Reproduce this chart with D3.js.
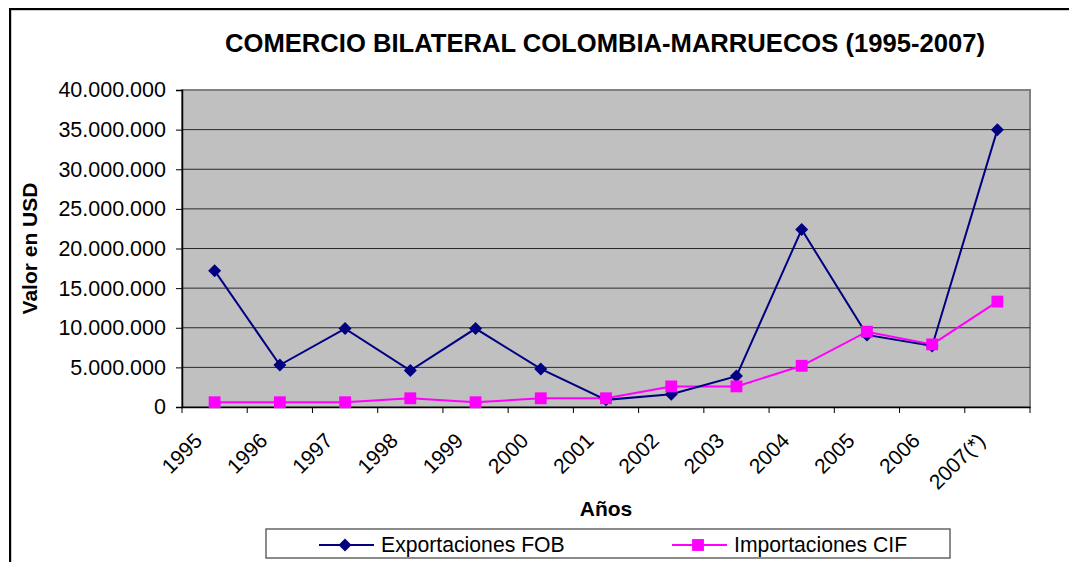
<!DOCTYPE html>
<html>
<head>
<meta charset="utf-8">
<script src="https://cdn.jsdelivr.net/npm/d3@7"></script>
<style>
  body { margin: 0; background: #fff; }
  svg { display: block; font-family: "Liberation Sans", Arial, sans-serif; }
</style>
</head>
<body>
<svg id="chart" width="1069" height="562"></svg>
<script>
// datos
var years = ["1995", "1996", "1997", "1998", "1999", "2000", "2001", "2002", "2003", "2004", "2005", "2006", "2007(*)"];
var exportaciones = [17200000, 5300000, 9900000, 4600000, 9900000, 4800000, 900000, 1600000, 3900000, 22400000, 9100000, 7700000, 35000000];
var importaciones = [600000, 600000, 600000, 1100000, 600000, 1100000, 1100000, 2600000, 2600000, 5200000, 9500000, 7900000, 13300000];
var yTicks = [0, 5000000, 10000000, 15000000, 20000000, 25000000, 30000000, 35000000, 40000000];

var width = 1069, height = 562;
var plot = { left: 182, right: 1030, top: 90, bottom: 407 };

var svg = d3.select("#chart");
var es = d3.formatLocale({ decimal: ",", thousands: ".", grouping: [3], currency: ["$", ""] });
var fmt = es.format(",d");

// marco exterior
svg.append("rect")
    .attr("x", 11).attr("y", 10)
    .attr("width", width + 10).attr("height", height + 10)
    .attr("fill", "none").attr("stroke", "#999").attr("stroke-width", 1);
svg.append("rect")
    .attr("x", 10).attr("y", 9)
    .attr("width", width + 10).attr("height", height + 10)
    .attr("fill", "none").attr("stroke", "#000").attr("stroke-width", 2);

var x = d3.scaleBand().domain(years).range([plot.left, plot.right]);
var y = d3.scaleLinear().domain([0, 40000000]).range([plot.bottom, plot.top]);

svg.append("rect")
    .attr("x", plot.left).attr("y", plot.top)
    .attr("width", plot.right - plot.left).attr("height", plot.bottom - plot.top)
    .attr("fill", "#c0c0c0").attr("stroke", "#808080").attr("stroke-width", 2);

// lineas de cuadricula
svg.append("g").selectAll("line")
    .data(yTicks.slice(1, -1))
    .join("line")
    .attr("x1", plot.left).attr("x2", plot.right)
    .attr("y1", d => y(d)).attr("y2", d => y(d))
    .attr("stroke", "#2a2a2a").attr("stroke-width", 1);

// eje Y
var yAxis = svg.append("g")
    .attr("transform", "translate(" + plot.left + ",0)")
    .call(d3.axisLeft(y).tickValues(yTicks).tickFormat(fmt).tickSize(6).tickPadding(10));
yAxis.select(".domain").attr("stroke", "#000").attr("stroke-width", 1.5);
yAxis.selectAll(".tick line").attr("stroke", "#000");
yAxis.selectAll("text").attr("font-size", 21.5).attr("fill", "#000")
    .attr("font-family", "Liberation Sans, Arial, sans-serif");

// eje X
var xAxis = svg.append("g")
    .attr("transform", "translate(0," + plot.bottom + ")")
    .call(d3.axisBottom(x).tickSize(0).tickFormat(""));
xAxis.select(".domain").attr("stroke", "#000").attr("stroke-width", 1.5);
svg.append("g").selectAll("line")
    .data(years.concat([null]))
    .join("line")
    .attr("x1", (d, i) => plot.left + i * x.step())
    .attr("x2", (d, i) => plot.left + i * x.step())
    .attr("y1", plot.bottom).attr("y2", plot.bottom + 6)
    .attr("stroke", "#000");

svg.append("g").selectAll("text")
    .data(years)
    .join("text")
    .attr("transform", d => "translate(" + (x(d) + x.bandwidth() / 2 - 11) + "," + (plot.bottom + 35) + ") rotate(-45)")
    .attr("text-anchor", "end")
    .attr("font-size", 21)
    .text(d => d);

// series
var cx = d => x(d) + x.bandwidth() / 2;
var line = d3.line().x((d, i) => cx(years[i])).y(d => y(d));

svg.append("path").datum(importaciones)
    .attr("d", line).attr("fill", "none")
    .attr("stroke", "#ff00ff").attr("stroke-width", 2);
svg.append("path").datum(exportaciones)
    .attr("d", line).attr("fill", "none")
    .attr("stroke", "#000080").attr("stroke-width", 2);

// rombo con media diagonal de 6.5px
var diamond = "M0,-6.5L6.5,0L0,6.5L-6.5,0Z";
var square = d3.symbol().type(d3.symbolSquare).size(140)();

svg.append("g").selectAll("path")
    .data(exportaciones)
    .join("path")
    .attr("d", diamond)
    .attr("transform", (d, i) => "translate(" + cx(years[i]) + "," + y(d) + ")")
    .attr("fill", "#000080");

svg.append("g").selectAll("path")
    .data(importaciones)
    .join("path")
    .attr("d", square)
    .attr("transform", (d, i) => "translate(" + cx(years[i]) + "," + y(d) + ")")
    .attr("fill", "#ff00ff");

// titulos
svg.append("text")
    .attr("x", 605).attr("y", 52)
    .attr("text-anchor", "middle")
    .attr("font-size", 25.6).attr("font-weight", "bold")
    .text("COMERCIO BILATERAL COLOMBIA-MARRUECOS (1995-2007)");

svg.append("text")
    .attr("x", (plot.left + plot.right) / 2).attr("y", 516)
    .attr("text-anchor", "middle")
    .attr("font-size", 21).attr("font-weight", "bold")
    .text("Años");

svg.append("text")
    .attr("transform", "translate(37," + (plot.top + plot.bottom) / 2 + ") rotate(-90)")
    .attr("text-anchor", "middle")
    .attr("font-size", 21).attr("font-weight", "bold")
    .text("Valor en USD");

// leyenda
var legend = svg.append("g");
legend.append("rect")
    .attr("x", 266).attr("y", 529).attr("width", 684).attr("height", 29)
    .attr("fill", "#fff").attr("stroke", "#666").attr("stroke-width", 1.5);

var items = [
    { name: "Exportaciones FOB", color: "#000080", sym: diamond, x0: 319 },
    { name: "Importaciones CIF", color: "#ff00ff", sym: square, x0: 672 }
];
items.forEach(function (it) {
    legend.append("line")
        .attr("x1", it.x0).attr("x2", it.x0 + 55)
        .attr("y1", 545).attr("y2", 545)
        .attr("stroke", it.color).attr("stroke-width", 2);
    legend.append("path")
        .attr("d", it.sym)
        .attr("transform", "translate(" + (it.x0 + 26) + ",545)")
        .attr("fill", it.color);
    legend.append("text")
        .attr("x", it.x0 + 62).attr("y", 552)
        .attr("font-size", 21.2)
        .text(it.name);
});
</script>
</body>
</html>
